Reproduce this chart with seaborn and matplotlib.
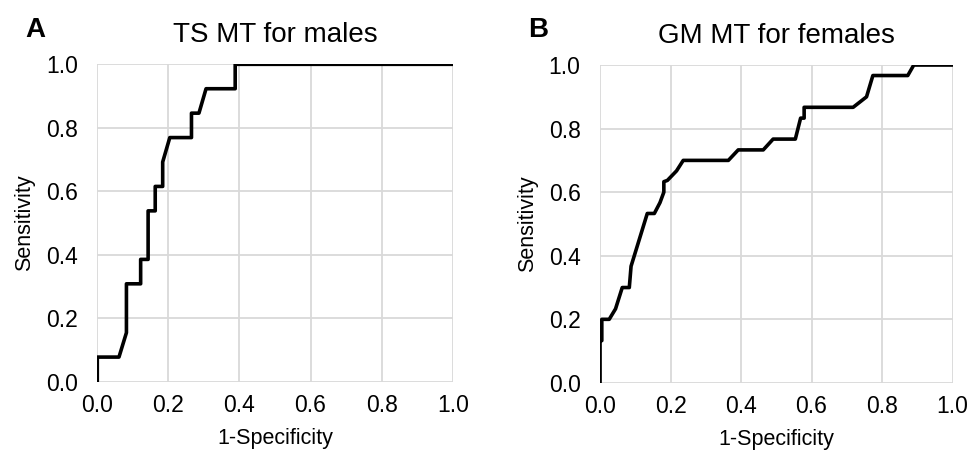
import matplotlib
matplotlib.use("Agg")
import matplotlib.pyplot as plt
import pandas as pd
import seaborn as sns

# ROC curve vertices (1-specificity, sensitivity)
males_fpr = [0.0, 0.0, 0.061, 0.082, 0.082, 0.122, 0.122, 0.143, 0.143,
             0.163, 0.163, 0.184, 0.184, 0.204, 0.265, 0.265, 0.286,
             0.306, 0.388, 0.388, 1.0]
males_tpr = [0.0, 0.077, 0.077, 0.154, 0.308, 0.308, 0.385, 0.385, 0.538,
             0.538, 0.615, 0.615, 0.692, 0.769, 0.769, 0.846, 0.846,
             0.923, 0.923, 1.0, 1.0]

females_fpr = [0.0, 0.0, 0.005, 0.005, 0.026, 0.044, 0.063, 0.083, 0.088,
               0.134, 0.154, 0.170, 0.181, 0.181, 0.191, 0.217, 0.236,
               0.364, 0.392, 0.463, 0.491, 0.554, 0.569, 0.579, 0.579,
               0.718, 0.756, 0.774, 0.873, 0.890, 1.0]
females_tpr = [0.0, 0.133, 0.133, 0.200, 0.200, 0.233, 0.300, 0.300, 0.367,
               0.533, 0.533, 0.567, 0.600, 0.633, 0.637, 0.667, 0.700,
               0.700, 0.733, 0.733, 0.767, 0.767, 0.833, 0.833, 0.867,
               0.867, 0.900, 0.967, 0.967, 1.0, 1.0]

panels = [
    ("A", "TS MT for males", males_fpr, males_tpr),
    ("B", "GM MT for females", females_fpr, females_tpr),
]
ticks = [0.0, 0.2, 0.4, 0.6, 0.8, 1.0]
tick_labels = ["0.0", "0.2", "0.4", "0.6", "0.8", "1.0"]


def main():
    sns.set_theme(style="whitegrid")
    plt.rcParams["font.family"] = ["Liberation Sans", "DejaVu Sans"]

    fig = plt.figure(figsize=(9.7, 4.58), dpi=100)
    boxes = [[0.1003, 0.167, 0.3664, 0.6926], [0.6186, 0.164, 0.3634, 0.6940]]

    for box, (letter, title, fpr, tpr) in zip(boxes, panels):
        ax = fig.add_axes(box)
        df = pd.DataFrame({"fpr": fpr, "tpr": tpr})
        sns.lineplot(data=df, x="fpr", y="tpr", sort=False, estimator=None,
                     color="black", linewidth=2.6, ax=ax)
        ax.set_xlim(0, 1)
        ax.set_ylim(0, 1)
        ax.set_xticks(ticks)
        ax.set_yticks(ticks)
        ax.set_xticklabels(tick_labels)
        ax.set_yticklabels(tick_labels)
        ax.tick_params(axis="both", labelsize=16.5, colors="black", length=0)
        ax.tick_params(axis="y", pad=14)
        ax.tick_params(axis="x", pad=9)
        ax.grid(True, color="#d9d9d9", linewidth=1.3)
        for s in ax.spines.values():
            s.set_visible(False)
        ax.set_xlabel("1-Specificity", fontsize=15.5, color="black", labelpad=8)
        ax.set_ylabel("Sensitivity", fontsize=15.5, color="black", labelpad=8)
        ax.set_title(title, fontsize=20, color="black", pad=16)
        x0 = box[0] - 72 / 970
        fig.text(x0, 0.92, letter, fontsize=20, fontweight="bold",
                 color="black", ha="left", va="baseline")

    fig.savefig("out.png", dpi=100)


if __name__ == "__main__":
    main()
